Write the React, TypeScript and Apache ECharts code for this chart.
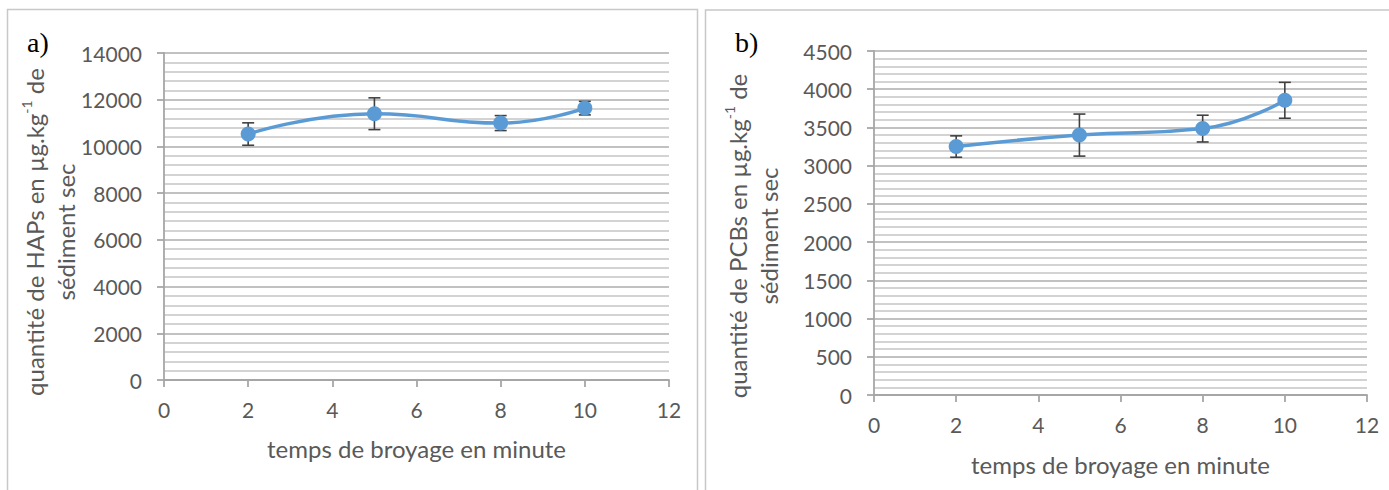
import React, { useEffect, useRef } from "react";
import * as echarts from "echarts";

const times = [2, 5, 8, 10];
const hapValues = [10530, 11400, 11000, 11640];
const hapErrors = [480, 680, 320, 290];
const pcbValues = [3250, 3400, 3485, 3855];
const pcbErrors = [140, 275, 175, 235];

const xTitle = "temps de broyage en minute";
const FONT = "Lato";
const TXT = "#595959";
const AXIS = "#A6A6A6";
const BLUE = "#5B9BD5";
const ERR = "#404040";
const TICK_FS = 21;
const TITLE_FS = 24;

function errRender(params: any, api: any) {
  const x = api.value(0);
  const lo = api.value(1);
  const hi = api.value(2);
  const t = api.coord([x, hi]);
  const b = api.coord([x, lo]);
  const w = 6;
  const st = { stroke: ERR, lineWidth: 1.6 };
  return {
    type: "group",
    children: [
      { type: "line", shape: { x1: t[0], y1: t[1], x2: b[0], y2: b[1] }, style: st },
      { type: "line", shape: { x1: t[0] - w, y1: t[1], x2: t[0] + w, y2: t[1] }, style: st },
      { type: "line", shape: { x1: b[0] - w, y1: b[1], x2: b[0] + w, y2: b[1] }, style: st },
    ],
  };
}

function xAxisOpt(gridIndex: number, gap: number) {
  return {
    type: "value",
    gridIndex,
    min: 0,
    max: 12,
    interval: 2,
    name: xTitle,
    nameLocation: "middle",
    nameGap: gap,
    nameTextStyle: { fontFamily: FONT, fontSize: TITLE_FS, color: TXT },
    axisLine: { show: true, onZero: false, lineStyle: { color: AXIS, width: 1.8 } },
    axisTick: { show: true, length: 7, lineStyle: { color: AXIS, width: 1.8 } },
    axisLabel: { fontFamily: FONT, fontSize: TICK_FS, color: TXT, margin: 19, formatter: (v: number) => String(v) },
    splitLine: { show: false },
  };
}

function yAxisOpt(gridIndex: number, max: number, interval: number) {
  return {
    type: "value",
    gridIndex,
    min: 0,
    max,
    interval,
    axisLine: { show: true, lineStyle: { color: AXIS, width: 1.8 } },
    axisTick: { show: true, length: 7, lineStyle: { color: AXIS, width: 1.8 } },
    axisLabel: { fontFamily: FONT, fontSize: TICK_FS, color: TXT, margin: 22, formatter: (v: number) => String(v) },
    splitLine: { show: true, lineStyle: { color: "#ADADAD", width: 1.6 } },
    minorTick: { show: false, splitNumber: 5 },
    minorSplitLine: { show: true, lineStyle: { color: "#C4C4C4", width: 1.6 } },
  };
}

function yTitle(x: number, y: number, label: string) {
  return {
    type: "text",
    x,
    y,
    rotation: Math.PI / 2,
    style: {
      text: `{m|quantité de ${label} en µg.kg}{s|-1}{m| de}\n{m|sédiment sec}`,
      align: "center",
      verticalAlign: "middle",
      rich: {
        m: { fontFamily: FONT, fontSize: TITLE_FS, fill: TXT, lineHeight: 31 },
        s: { fontFamily: FONT, fontSize: 14, fill: TXT, lineHeight: 20, verticalAlign: "top" },
      },
    },
  };
}

export default function App() {
  const ref = useRef<HTMLDivElement>(null);
  useEffect(() => {
    if (!ref.current) return;
    const chart = echarts.init(ref.current, undefined, { renderer: "svg" });
    const hapLine = times.map((t, i) => [t, hapValues[i]]);
    const hapErr = times.map((t, i) => [t, hapValues[i] - hapErrors[i], hapValues[i] + hapErrors[i]]);
    const pcbLine = times.map((t, i) => [t, pcbValues[i]]);
    const pcbErr = times.map((t, i) => [t, pcbValues[i] - pcbErrors[i], pcbValues[i] + pcbErrors[i]]);
    chart.setOption({
      animation: false,
      backgroundColor: "#ffffff",
      grid: [
        { left: 164, top: 53, width: 505, height: 327 },
        { left: 874, top: 51, width: 493, height: 344 },
      ],
      xAxis: [xAxisOpt(0, 56), xAxisOpt(1, 57)],
      yAxis: [yAxisOpt(0, 14000, 2000), yAxisOpt(1, 4500, 500)],
      graphic: [
        { type: "rect", shape: { x: 7.5, y: 9.5, width: 690, height: 520 }, style: { fill: "none", stroke: "#C8C8C8", lineWidth: 1.5 } },
        { type: "rect", shape: { x: 705.5, y: 10, width: 720, height: 520 }, style: { fill: "none", stroke: "#C8C8C8", lineWidth: 1.5 } },
        { type: "text", x: 27, y: 42, style: { text: "a)", font: "28px 'Liberation Serif', serif", fill: "#000", verticalAlign: "middle" } },
        { type: "text", x: 735, y: 42, style: { text: "b)", font: "28px 'Liberation Serif', serif", fill: "#000", verticalAlign: "middle" } },
        yTitle(50, 232, "HAPs"),
        yTitle(753, 236, "PCBs"),
      ],
      series: [
        { type: "custom", xAxisIndex: 0, yAxisIndex: 0, data: hapErr, renderItem: errRender, z: 2 },
        {
          type: "line", xAxisIndex: 0, yAxisIndex: 0, data: hapLine, smooth: 0.5,
          symbol: "circle", symbolSize: 15, itemStyle: { color: BLUE },
          lineStyle: { color: BLUE, width: 3.5 }, z: 3,
        },
        { type: "custom", xAxisIndex: 1, yAxisIndex: 1, data: pcbErr, renderItem: errRender, z: 2 },
        {
          type: "line", xAxisIndex: 1, yAxisIndex: 1, data: pcbLine, smooth: 0.5,
          symbol: "circle", symbolSize: 15, itemStyle: { color: BLUE },
          lineStyle: { color: BLUE, width: 3.5 }, z: 3,
        },
      ],
    });
    return () => chart.dispose();
  }, []);
  return (
    <div
      ref={ref}
      style={{ position: "fixed", left: 0, top: 0, width: 1389, height: 490, background: "#fff" }}
    />
  );
}
